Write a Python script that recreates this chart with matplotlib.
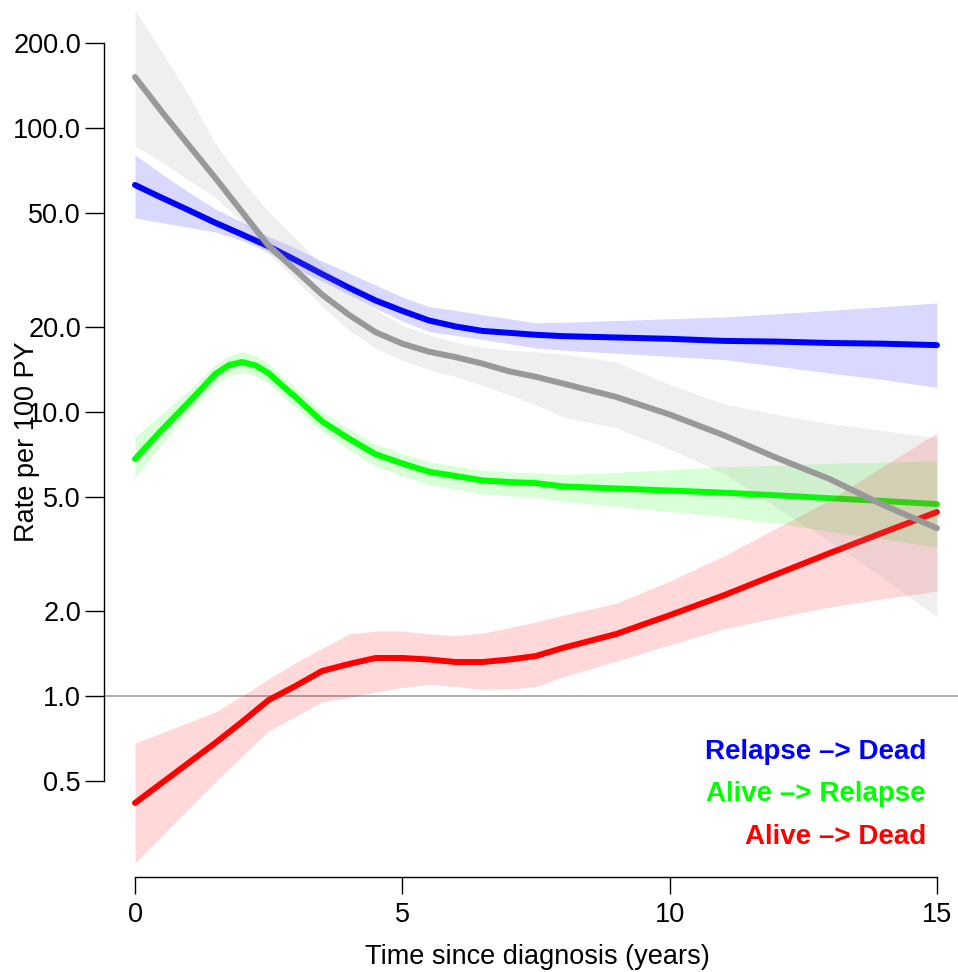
import matplotlib
matplotlib.use("Agg")
import matplotlib.pyplot as plt

plt.rcParams['font.family'] = ['Liberation Sans', 'DejaVu Sans']

years = [0, 0.5, 1, 1.5, 2, 2.5, 3, 3.5, 4, 4.5, 5, 5.5, 6, 6.5, 7, 7.5, 8,
         9, 10, 11, 12, 13, 14, 15]

# Relapse -> Dead
blue_est = [63.0, 56.8, 51.4, 46.4, 42.2, 38.3, 34.3, 30.6, 27.4, 24.7, 22.7, 21.0,
            20.0, 19.3, 19.0, 18.7, 18.5, 18.3, 18.1, 17.8, 17.7, 17.5, 17.4, 17.2]
blue_hi = [80.4, 68.9, 59.5, 51.9, 46.7, 41.5, 37.8, 34.0, 30.9, 28.0, 25.4, 23.5,
           22.8, 22.0, 21.3, 20.6, 20.7, 21.0, 21.3, 21.6, 22.2, 22.8, 23.5, 24.2]
blue_lo = [48.2, 46.4, 44.7, 43.0, 40.2, 36.5, 32.0, 28.9, 25.9, 23.2, 20.9, 19.2,
           18.6, 18.0, 17.4, 16.8, 16.5, 16.1, 15.7, 15.3, 14.5, 13.7, 13.0, 12.2]

# Alive -> Relapse (extra readings around the peak)
green_years = [0, 0.5, 1, 1.25, 1.5, 1.75, 2, 2.25, 2.5, 2.75, 3, 3.5, 4, 4.5, 5, 5.5,
               6, 6.5, 7, 7.5, 8, 9, 10, 11, 12, 13, 14, 15]
green_est = [6.83, 8.64, 10.8, 12.1, 13.6, 14.6, 15.0, 14.6, 13.7, 12.4, 11.3, 9.26,
             8.06, 7.10, 6.59, 6.16, 5.95, 5.74, 5.67, 5.62, 5.47, 5.38, 5.29, 5.20,
             5.09, 4.97, 4.86, 4.74]
green_hi = [8.17, 9.84, 11.9, 13.2, 14.7, 15.8, 16.3, 15.8, 14.8, 13.4, 12.2, 10.0,
            8.74, 7.70, 7.14, 6.68, 6.45, 6.23, 6.15, 6.10, 6.03, 6.13, 6.27, 6.42,
            6.49, 6.60, 6.66, 6.72]
green_lo = [5.86, 7.72, 9.92, 11.1, 12.5, 13.4, 13.8, 13.4, 12.6, 11.4, 10.4, 8.54,
            7.37, 6.45, 5.95, 5.54, 5.36, 5.15, 5.06, 5.02, 4.85, 4.65, 4.46, 4.28,
            4.06, 3.80, 3.57, 3.35]

# Alive -> Dead
red_est = [0.420, 0.494, 0.581, 0.683, 0.810, 0.968, 1.084, 1.225, 1.296, 1.361, 1.361, 1.344,
           1.317, 1.317, 1.344, 1.383, 1.476, 1.653, 1.925, 2.257, 2.685, 3.188, 3.768, 4.445]
red_hi = [0.683, 0.741, 0.807, 0.878, 1.000, 1.148, 1.309, 1.471, 1.653, 1.694, 1.694, 1.653,
          1.633, 1.663, 1.739, 1.822, 1.922, 2.122, 2.537, 3.104, 3.902, 4.898, 6.454, 8.44]
red_lo = [0.258, 0.321, 0.400, 0.498, 0.613, 0.753, 0.847, 0.952, 0.988, 1.030, 1.072, 1.098,
          1.080, 1.054, 1.058, 1.080, 1.166, 1.326, 1.512, 1.720, 1.888, 2.058, 2.198, 2.343]

# unlabelled grey curve
gray_est = [151.2, 114.2, 87.2, 66.8, 50.7, 38.5, 31.6, 25.9, 22.0, 19.1, 17.4, 16.3,
            15.6, 14.8, 13.9, 13.3, 12.6, 11.3, 9.8, 8.3, 6.9, 5.8, 4.7, 3.9]
gray_hi = [260.4, 185.2, 130.7, 88.6, 65.6, 50.7, 40.8, 32.9, 26.9, 22.9, 20.2, 18.7,
           17.6, 16.9, 16.5, 16.3, 16.0, 15.0, 12.5, 10.7, 9.8, 9.1, 8.6, 8.1]
gray_lo = [86.4, 75.9, 65.6, 57.1, 46.7, 36.0, 29.2, 23.6, 19.4, 16.8, 15.2, 14.1,
           13.3, 12.4, 11.5, 10.6, 9.6, 8.8, 7.4, 6.1, 4.6, 3.5, 2.6, 1.9]

y_ticks = [0.5, 1, 2, 5, 10, 20, 50, 100, 200]
x_ticks = [0, 5, 10, 15]
legend_labels = ["Relapse \u2013> Dead", "Alive \u2013> Relapse", "Alive \u2013> Dead"]
legend_colors = ["#0000FF", "#00FF00", "#FF0000"]

W, H = 958, 972
fig = plt.figure(figsize=(W / 100, H / 100), dpi=100)
ax = fig.add_axes([104 / W, (H - 877) / H, 865 / W, 871 / H])
ax.set_yscale('log')
ax.set_xlim(-0.58, 15.6)
ax.set_ylim(0.2305, 268.9)

ax.axhline(1.0, color='#999999', lw=1.1, zorder=1)

series = [
    (years, blue_est, blue_lo, blue_hi, "#0000FF"),
    (green_years, green_est, green_lo, green_hi, "#00FF00"),
    (years, red_est, red_lo, red_hi, "#FF0000"),
    (years, gray_est, gray_lo, gray_hi, "#999999"),
]
z = 2
for xs, est, lo, hi, col in series:
    ax.fill_between(xs, lo, hi, color=col, alpha=0.15, linewidth=0, zorder=z)
    ax.plot(xs, est, color=col, lw=4.3, solid_capstyle='round',
            solid_joinstyle='round', zorder=z + 1)
    z += 2

for sp in ['top', 'right']:
    ax.spines[sp].set_visible(False)
ax.spines['left'].set_bounds(0.5, 200)
ax.spines['bottom'].set_bounds(0, 15)
for sp in ['left', 'bottom']:
    ax.spines[sp].set_linewidth(1.0)

ax.set_yticks(y_ticks)
ax.set_yticklabels(["%.1f" % v for v in y_ticks])
ax.yaxis.set_minor_locator(matplotlib.ticker.NullLocator())
ax.set_xticks(x_ticks)
ax.set_xticklabels([str(v) for v in x_ticks])
ax.tick_params(axis='y', length=13.7, width=1.0, labelsize=19.5, pad=2.9)
ax.tick_params(axis='x', length=12.5, width=1.0, labelsize=19.5, pad=5.5)

fig.text(27 / W, 1 - 442 / H, "Rate per 100 PY", rotation=90, ha='center',
         va='center', fontsize=19.5)
fig.text(537 / W, 1 - 957 / H, "Time since diagnosis (years)", ha='center',
         va='center', fontsize=19.5)

baselines = [759, 801, 844]
for lab, col, b in zip(legend_labels, legend_colors, baselines):
    fig.text(926 / W, 1 - b / H, lab, color=col, ha='right', va='baseline',
             fontsize=20, fontweight='bold')

fig.savefig("out.png", dpi=100)
